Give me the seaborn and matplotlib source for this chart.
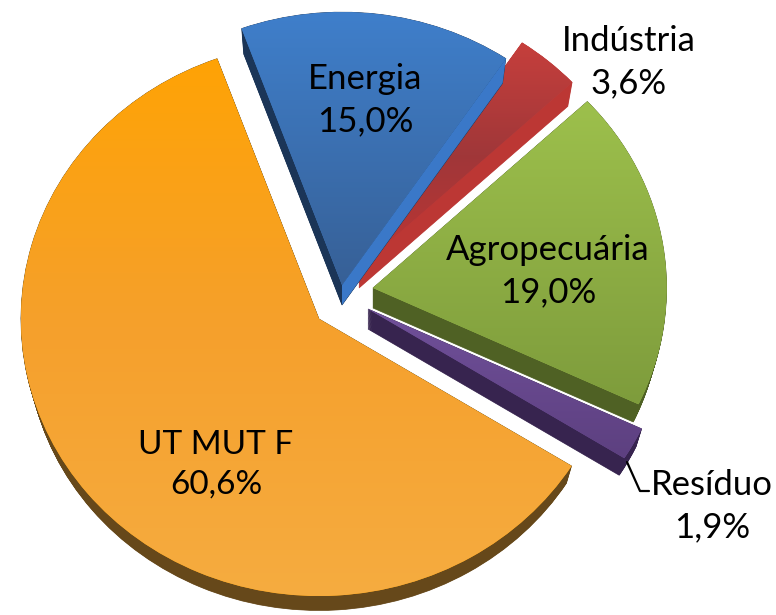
import numpy as np
import matplotlib
matplotlib.use("AGG")
import matplotlib.pyplot as plt
import seaborn as sns
from matplotlib.colors import LinearSegmentedColormap
from matplotlib.patches import Polygon, Wedge

# dados, a partir do UT MUT F no sentido anti-horario
labels = ["UT MUT F", "Resíduo", "Agropecuária", "Indústria", "Energia"]
shares = [60.6, 1.9, 19.0, 3.6, 15.0]

# cores: gradiente da face (topo -> base) e lateral
face_colors = [
    ["#FFA305", "#F5A02C", "#F6AC40"],
    ["#70509A", "#5D4080"],
    ["#9DC04C", "#7E9C3C"],
    ["#C63F3C", "#A03739", "#BE3533"],
    ["#3F7FCB", "#376096"],
]
side_colors = ["#66481A", "#37244F", "#4F6124", "#BC3734", "#1B3557"]

# posicao em pixels do vertice de cada fatia e raio relativo
apex_x = [319, 368, 373, 359, 342]
apex_y = [319, 309, 288, 268, 285]
radii = [1.0, 1.015, 0.985, 0.98, 0.985]
label_x = [216, 712, 548, 629, 365]
label_y = [465, 506, 271, 62, 100]
label_size = [24, 25, 25, 25, 25]

RX = 298
RY = 277
DEPTH = 20 / RY


def to_x(px):
    return (px - 318) / RX


def to_y(py):
    return (320 - py) / RY


sns.set_theme(style="white")
plt.rcParams["font.family"] = ["Lato", "DejaVu Sans"]

fig = plt.figure(figsize=(7.76, 6.15), dpi=100)
ax = fig.add_axes([0, 0, 1, 1])

wedges, _ = ax.pie(shares, startangle=110, wedgeprops={"linewidth": 0})

# a ordem de desenho: energia fica por baixo da industria etc.
draw_order = [4, 3, 2, 1, 0]
for i in draw_order:
    wedge = wedges[i]
    cx, cy = to_x(apex_x[i]), to_y(apex_y[i])
    r = radii[i]
    wedge.set_center((cx, cy))
    wedge.set_radius(r)

    # lateral: copias deslocadas para baixo, um pouco menores
    base = i * 100
    for f in np.linspace(1, 0, 25):
        ax.add_patch(Wedge((cx, cy - DEPTH * f), r * (1 - 0.02 * f),
                           wedge.theta1, wedge.theta2,
                           fc=side_colors[i], ec=side_colors[i], lw=0.5,
                           zorder=base + 1))

    # face clara da lateral direita da energia
    if labels[i] == "Energia":
        t = np.deg2rad(wedge.theta1)
        corners = [
            (cx, cy),
            (cx, cy - DEPTH),
            (cx + r * 0.98 * np.cos(t), cy - DEPTH + r * 0.98 * np.sin(t)),
            (cx + r * np.cos(t), cy + r * np.sin(t)),
        ]
        ax.add_patch(Polygon(corners, fc="#3A78C8", ec="none", zorder=base + 2))

    # face com gradiente vertical recortada pela fatia
    wedge.set_facecolor(face_colors[i][0])
    wedge.set_zorder(base + 3)
    box = wedge.get_path().get_extents()
    cmap = LinearSegmentedColormap.from_list("face", face_colors[i])
    img = ax.imshow(np.linspace(0, 1, 256).reshape(-1, 1), cmap=cmap,
                    extent=(box.x0, box.x1, box.y0, box.y1), aspect="auto",
                    interpolation="bilinear", zorder=base + 4)
    img.set_clip_path(wedge)

# linha de chamada do residuo
ax.plot([to_x(627), to_x(640), to_x(649)], [to_y(462), to_y(491), to_y(491)],
        color="black", lw=1.6, zorder=900)

for i, name in enumerate(labels):
    text = name + "\n" + f"{shares[i]:.1f}%".replace(".", ",")
    ax.text(to_x(label_x[i]), to_y(label_y[i]), text, ha="center", va="center",
            fontsize=label_size[i], color="black", linespacing=1.38, zorder=1000)

ax.set_xlim(to_x(0), to_x(776))
ax.set_ylim(to_y(615), to_y(0))
ax.set_aspect("auto")
ax.axis("off")

fig.savefig("out.png", dpi=100)
